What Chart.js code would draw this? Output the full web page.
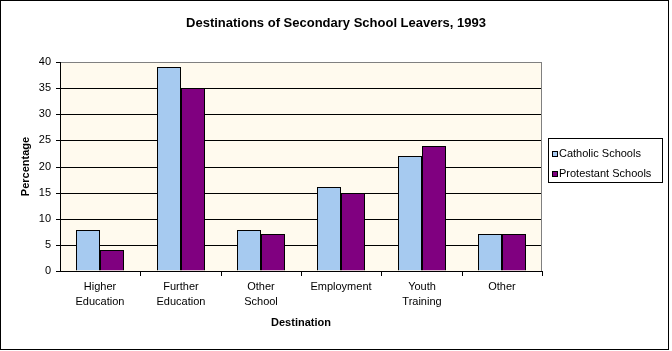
<!DOCTYPE html>
<html>
<head>
<meta charset="utf-8">
<script src="https://cdn.jsdelivr.net/npm/chart.js@4.4.1/dist/chart.umd.min.js"></script>
<style>
html,body{margin:0;padding:0;background:#fff;}
canvas{display:block;}
</style>
</head>
<body>
<canvas id="c" width="672" height="351"></canvas>
<script>
const categories = [["Higher","Education"],["Further","Education"],["Other","School"],"Employment",["Youth","Training"],"Other"];
const seriesNames = ["Catholic Schools","Protestant Schools"];
const catholic = [7.8, 39, 7.8, 16, 22, 7];
const protestant = [4, 35, 7, 15, 24, 7];
const yTicks = [0,5,10,15,20,25,30,35,40];
const titleText = "Destinations of Secondary School Leavers, 1993";
const xTitle = "Destination";
const yTitle = "Percentage";
const colors = ["#A6CAF0", "#800080"];

Chart.defaults.font.family = "'Liberation Sans', Arial, sans-serif";
Chart.defaults.color = "#000";

const framePlugin = {
  id: 'frame',
  beforeDraw(chart) {
    const ctx = chart.ctx, a = chart.chartArea;
    ctx.save();
    ctx.fillStyle = '#fff';
    ctx.fillRect(0, 0, chart.width, chart.height);
    ctx.fillStyle = '#FFFAEE';
    ctx.fillRect(a.left, a.top, a.right - a.left, a.bottom - a.top);
    ctx.restore();
  },
  afterDraw(chart) {
    const ctx = chart.ctx, a = chart.chartArea;
    ctx.save();
    ctx.strokeStyle = '#808080';
    ctx.lineWidth = 1;
    ctx.beginPath();
    ctx.moveTo(Math.round(a.right) - 0.5, a.top);
    ctx.lineTo(Math.round(a.right) - 0.5, a.bottom);
    ctx.stroke();
    ctx.strokeStyle = '#000';
    ctx.strokeRect(0.5, 0.5, 668, 349);
    const lx = 548, ly = 138, lw = 114, lh = 44;
    ctx.fillStyle = '#fff';
    ctx.fillRect(lx, ly, lw, lh);
    ctx.strokeRect(lx + 0.5, ly + 0.5, lw, lh);
    ctx.font = "11px 'Liberation Sans', Arial, sans-serif";
    ctx.textBaseline = 'middle';
    ctx.textAlign = 'left';
    chart.data.datasets.forEach((ds, i) => {
      const cy = ly + 16 + i * 20;
      ctx.fillStyle = ds.backgroundColor;
      ctx.fillRect(lx + 4, cy - 3, 6, 6);
      ctx.strokeStyle = '#000';
      ctx.strokeRect(lx + 4.5, cy - 2.5, 5, 5);
      ctx.fillStyle = '#000';
      ctx.fillText(ds.label, lx + 11, cy);
    });
    ctx.restore();
  }
};

new Chart(document.getElementById('c'), {
  type: 'bar',
  data: {
    labels: categories,
    datasets: [
      { label: seriesNames[0], data: catholic, backgroundColor: colors[0], borderColor: '#000', borderWidth: 1 },
      { label: seriesNames[1], data: protestant, backgroundColor: colors[1], borderColor: '#000', borderWidth: 1 }
    ]
  },
  options: {
    responsive: false,
    animation: false,
    devicePixelRatio: 1,
    layout: { padding: 0 },
    datasets: { bar: { categoryPercentage: 0.6, barPercentage: 1 } },
    plugins: {
      legend: { display: false },
      tooltip: { enabled: false },
      title: {
        display: true,
        text: titleText,
        color: '#000',
        font: { size: 13, weight: 'bold' },
        padding: { top: 16, bottom: 30.4 }
      }
    },
    scales: {
      x: {
        type: 'category',
        alignToPixels: true,
        grid: { offset: true, drawOnChartArea: false, color: '#000', tickColor: '#000', tickLength: 5 },
        border: { color: '#000' },
        ticks: { font: { size: 11, lineHeight: 15/11 }, color: '#000', padding: 3, maxRotation: 0, autoSkip: false },
        title: { display: true, text: xTitle, color: '#000', font: { size: 11, weight: 'bold' }, padding: { top: 0, bottom: 21 } },
        afterFit(s) { s.height = 80; }
      },
      y: {
        min: 0, max: 40,
        alignToPixels: true,
        afterBuildTicks(s) { s.ticks = yTicks.map(v => ({ value: v })); },
        grid: {
          color: ctx => (ctx.tick && ctx.tick.value === 40) ? '#808080' : '#000',
          tickColor: '#000',
          tickLength: 4
        },
        border: { color: '#000' },
        ticks: { font: { size: 11 }, color: '#000', padding: 5 },
        title: { display: true, text: yTitle, color: '#000', font: { size: 11, weight: 'bold' }, padding: { top: 19, bottom: 0 } },
        afterFit(s) { s.width = 60; }
      },
      legendSpace: {
        type: 'linear',
        position: 'right',
        display: true,
        grid: { display: false, drawTicks: false },
        border: { display: false },
        ticks: { display: false },
        afterFit(s) { s.width = 130; }
      }
    }
  },
  plugins: [framePlugin]
});
</script>
</body>
</html>
